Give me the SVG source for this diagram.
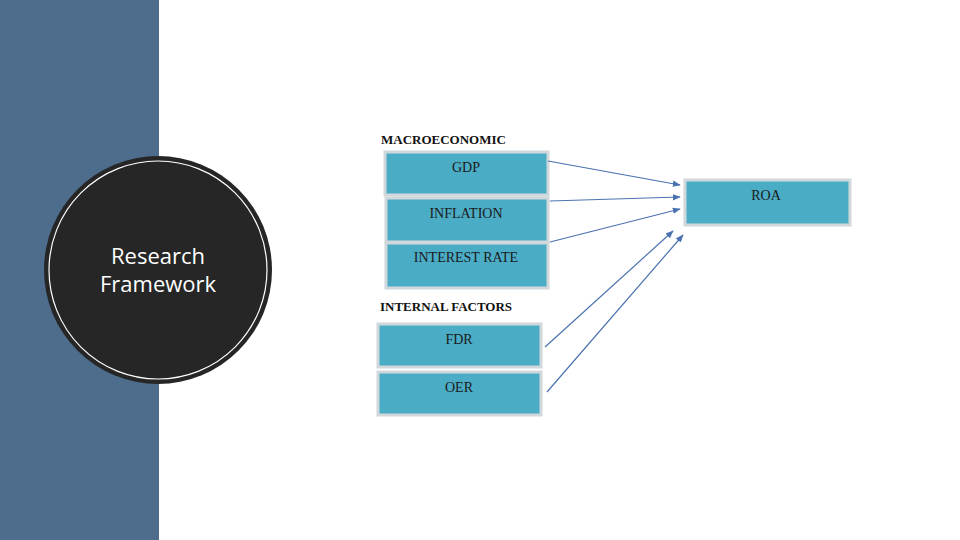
<svg xmlns="http://www.w3.org/2000/svg" width="960" height="540" viewBox="0 0 960 540">
<defs>
<style>
.box{fill:#4bacc6;stroke:#d0d8dc;stroke-width:3}
.t{font-family:"Liberation Serif",serif;font-size:14px;fill:#1a1a1a;text-anchor:middle}
.h{font-family:"Liberation Serif",serif;font-size:13px;font-weight:bold;fill:#111}
.c{stroke:#4a72b0;stroke-width:1.2;fill:none;marker-end:url(#a)}
</style>
<marker id="a" viewBox="0 0 10 10" refX="9" refY="5" markerWidth="8" markerHeight="8" orient="auto" markerUnits="userSpaceOnUse"><path d="M0,1 L10,5 L0,9 Z" fill="#4a72b0"/></marker>
</defs>
<rect width="960" height="540" fill="#fff"/>
<rect width="159" height="540" fill="#4e6d8c"/>
<g id="title">
<circle cx="158" cy="270" r="114" fill="#262626"/>
<circle cx="158" cy="270" r="109" fill="none" stroke="#fff" stroke-width="1.2"/>
<text x="158" y="264" font-family="'Open Sans',sans-serif" font-size="22" fill="#fff" text-anchor="middle">Research</text>
<text x="158" y="292" font-family="'Open Sans',sans-serif" font-size="22" fill="#fff" text-anchor="middle">Framework</text>
</g>
<text class="h" x="381" y="144">MACROECONOMIC</text>
<text class="h" x="380" y="311">INTERNAL FACTORS</text>
<g id="gdp"><rect class="box" x="385" y="152" width="163" height="43"/><text class="t" x="466" y="172">GDP</text></g>
<g id="inflation"><rect class="box" x="386" y="198" width="162" height="44"/><text class="t" x="466" y="218">INFLATION</text></g>
<g id="interest"><rect class="box" x="386" y="243" width="162" height="45"/><text class="t" x="466" y="262">INTEREST RATE</text></g>
<g id="fdr"><rect class="box" x="378" y="324" width="163" height="43"/><text class="t" x="459" y="344">FDR</text></g>
<g id="oer"><rect class="box" x="378" y="372" width="163" height="43"/><text class="t" x="459" y="392">OER</text></g>
<g id="roa"><rect class="box" x="685" y="180" width="165" height="45"/><text class="t" x="766" y="200">ROA</text></g>
<g id="connectors">
<line class="c" x1="548" y1="161" x2="680" y2="185"/>
<line class="c" x1="550" y1="201" x2="680" y2="197"/>
<line class="c" x1="550" y1="242" x2="680" y2="209"/>
<line class="c" x1="545" y1="347" x2="673" y2="231"/>
<line class="c" x1="547" y1="392" x2="683" y2="235"/>
</g>
</svg>
